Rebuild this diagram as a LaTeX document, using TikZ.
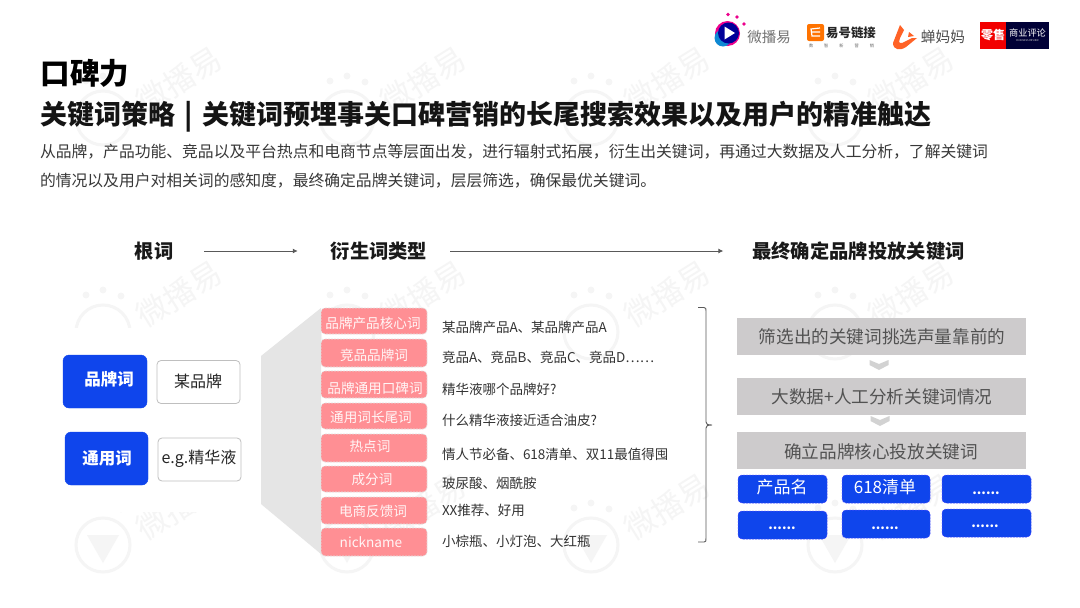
\documentclass[tikz,border=0pt]{standalone}
\usepackage{fontspec}
\setmainfont{Noto Sans CJK SC}
\usetikzlibrary{arrows.meta}
\definecolor{wm}{HTML}{F5F5F5}
\definecolor{bluebox}{HTML}{0F45EC}
\definecolor{pinkbox}{HTML}{FF8F94}
\definecolor{graybox}{HTML}{CDCBCC}
\definecolor{chev}{HTML}{D2D2D2}
\definecolor{trap}{HTML}{E5E5E5}
\newcommand{\fs}[1]{\fontsize{#1}{#1}\selectfont}
\tikzset{
  x=1pt,y=-1pt,
  txt/.style={inner sep=0,outer sep=0,text=#1},
  txt/.default=black,
  headlabel/.style={txt=black!90,font=\fs{19.3}\bfseries},
  rootbtn/.style={draw=bluebox,fill=bluebox,rounded corners=6,inner sep=0,outer sep=0},
  rootval/.style={draw=black!25,line width=.8pt,fill=white,rounded corners=4,inner sep=0,outer sep=0},
  pinkb/.style={draw=black!12,dashed,line width=.6pt,dash pattern=on 2pt off 1pt,fill=pinkbox,rounded corners=4,inner sep=0,outer sep=0},
  pinkt/.style={txt=white!92!pinkbox,font=\fs{13.6}},
  extxt/.style={txt=black!80,font=\fs{13.5},anchor=west},
  grayb/.style={fill=graybox,inner sep=0,outer sep=0},
  grayt/.style={txt=black!68,font=\fs{17.6}},
  blueb/.style={draw=blue!70!white,dashed,line width=.5pt,dash pattern=on 2pt off 1pt,fill=bluebox,rounded corners=4,inner sep=0,outer sep=0},
  bluet/.style={txt=white,font=\fs{17}},
  dott/.style={txt=white,font=\fs{13}\bfseries,anchor=base},
  flow/.style={draw=black!65,line width=.9pt,-{Latex[length=5pt,width=5pt]}},
}
\newcommand{\wmark}[3]{% x y triangle?
  \begin{scope}[shift={(#1,#2)}]
    \fill[wm] (-17,-37) circle (3.4) (0,-42) circle (3.4) (18,-36) circle (3.4);
    \draw[wm,line width=3pt] (0,0) circle (27);
    \ifnum#3=1 \fill[wm] (-16,-10) -- (16,-10) -- (0,18) -- cycle;\fi
    \node[txt=wm,font=\fs{31},rotate=32] at (76,-38) {微播易};
  \end{scope}}
\begin{document}
\begin{tikzpicture}
\useasboundingbox (0,0) rectangle (1080,608);
\fill[white] (0,0) rectangle (1080,608);
% watermarks
\foreach \xx in {103,347,591,835}{\wmark{\xx}{118}{0}\wmark{\xx}{332}{0}\wmark{\xx}{545}{1}}
\fill[white] (30,328) rectangle (262,512);
% logos
\fill[magenta] (728,14.5) circle (1.9) (737,17) circle (1.8) (744,24) circle (1.8);
\fill[magenta] (727.5,33.5) circle (12.5);
\fill[cyan!70!blue] (723,38) circle (8.5);
\fill[blue!60!black] (728.5,33) circle (10.5);
\fill[white] (724.5,26.5) -- (735,33) -- (724.5,39.5) -- cycle;
\node[txt=black!55,font=\fs{14.5}] (lwb) at (769,37) {微播易};
\fill[orange!90!red,rounded corners=2] (807,24) rectangle (824,41);
\draw[white,line width=1.2pt] (820,28) -- (811,29) -- (812,36) -- (820,36) (812,32) -- (820,32);
\node[txt=black!85,font=\fs{12.4}\bfseries] (lyh) at (851,33) {易号链接};
\node[txt=black!60,font=\fs{4.2}] (lyhs) at (841.5,46) {数\hspace{11pt}智\hspace{11pt}新\hspace{11pt}营\hspace{11pt}销};
\fill[orange!55!red!85!white] (900,25) -- (893,43) .. controls (893,50) and (900,51) .. (906,47) -- (917,38) -- (912,38) -- (902,43) .. controls (898,44) and (899,40) .. (900,38) -- (904,30) -- cycle;
\fill[orange!55!red!85!white] (909,32) -- (914,36) -- (908,37) -- cycle;
\node[txt=black!70,font=\fs{14.7}] (lcm) at (943,37) {蝉妈妈};
\fill[red!95!black] (980,22) rectangle (1006,49);
\fill[black!30!blue!30!black] (1006,22) rectangle (1049,49);
\node[txt=white,font=\fs{12}\bfseries] (lls) at (993,35) {零售};
\node[txt=white,font=\fs{9.2}] (lsy) at (1027.5,33) {商业评论};
\node[txt=white!80!black,font=\fs{2.6}] (lbr) at (1027.5,41) {BUSINESS REVIEW};
% titles
\node[txt=black,font=\fs{29.5}\bfseries,anchor=west] (title) at (41,73) {口碑力};
\node[txt=black!92,font=\fs{27}\bfseries,anchor=west] (sub) at (41,117) {关键词策略\hspace{9pt}|\hspace{9pt}关键词预埋事关口碑营销的长尾搜索效果以及用户的精准触达};
\node[txt=black!78,font=\fs{15.8},anchor=west] (d1) at (40,152) {从品牌，产品功能、竞品以及平台热点和电商节点等层面出发，进行辐射式拓展，衍生出关键词，再通过大数据及人工分析，了解关键词};
\node[txt=black!78,font=\fs{15.8},anchor=west] (d2) at (40,181) {的情况以及用户对相关词的感知度，最终确定品牌关键词，层层筛选，确保最优关键词。};
% headers
\node[headlabel] (h1) at (154,251) {根词};
\node[headlabel] (h2) at (379,251) {衍生词类型};
\node[headlabel] (h3) at (858.5,251) {最终确定品牌投放关键词};
\draw[flow,shorten <=31pt,shorten >=33pt] (h1) -- (h2);
\draw[flow,shorten <=23pt,shorten >=29pt] (h2) -- (h3);
% left
\node[rootbtn,minimum width=84,minimum height=53] (b1) at (105,381.5) {};
\node[txt=white,font=\fs{16.5}\bfseries] (b1t) at (109,379) {品牌词};
\node[rootbtn,minimum width=83,minimum height=53] (b2) at (106.5,458.5) {};
\node[txt=white,font=\fs{16.5}\bfseries] (b2t) at (107,458) {通用词};
\node[rootval,minimum width=83,minimum height=43] (v1) at (198.5,382) {};
\node[txt=black!85,font=\fs{16}] (v1t) at (198,381) {某品牌};
\node[rootval,minimum width=83,minimum height=43] (v2) at (199.5,459.5) {};
\node[txt=black!85,font=\fs{16}] (v2t) at (199,459) {e.g.精华液};
% trapezoid
\fill[trap] (261,356) -- (321,308) -- (321,554) -- (261,504) -- cycle;
% pink
\foreach \n/\yc/\hh in {p1/321/26,p2/353/28,p3/384.5/27,p4/416/26,p5/448/28,p6/479/26,p7/510.5/27,p8/542/28}{
  \node[pinkb,minimum width=106,minimum height=\hh] (\n) at (374,\yc) {};}
\node[pinkt] (t1) at (373,323) {品牌产品核心词};
\node[pinkt] (t2) at (374,355) {竞品品牌词};
\node[pinkt] (t3) at (375,388) {品牌通用口碑词};
\node[pinkt] (t4) at (371,417) {通用词长尾词};
\node[pinkt] (t5) at (370,446) {热点词};
\node[pinkt] (t6) at (372,479) {成分词};
\node[pinkt] (t7) at (373,511) {电商反馈词};
\node[pinkt] (t8) at (371,542) {nickname};
% examples
\node[extxt] (e1) at (442,327) {某品牌产品A、某品牌产品A};
\node[extxt] (e2) at (442,357) {竞品A、竞品B、竞品C、竞品D……};
\node[extxt] (e3) at (442,389) {精华液哪个品牌好?};
\node[extxt] (e4) at (442,420) {什么精华液接近适合油皮?};
\node[extxt] (e5) at (442,454) {情人节必备、618清单、双11最值得囤};
\node[extxt] (e6) at (442,483) {玻尿酸、烟酰胺};
\node[extxt] (e7) at (442,510) {XX推荐、好用};
\node[extxt] (e8) at (442,541) {小棕瓶、小灯泡、大红瓶};
% bracket
\draw[black!65,line width=.9pt] (698,307.5) -- (704,307.5) .. controls (706,307.5) and (706,309) .. (706,311) -- (706,422) .. controls (706,424) and (707,425) .. (712,425) .. controls (707,425) and (706,426) .. (706,428) -- (706,538) .. controls (706,541) and (706,542) .. (704,542) -- (698,542);
% right
\node[grayb,minimum width=289,minimum height=37] (g1) at (881.5,336.5) {};
\node[grayb,minimum width=289,minimum height=37] (g2) at (881.5,396) {};
\node[grayb,minimum width=289,minimum height=37] (g3) at (881.5,450) {};
\node[grayt] (g1t) at (882,337) {筛选出的关键词挑选声量靠前的};
\node[grayt] (g2t) at (882,397) {大数据+人工分析关键词情况};
\node[grayt] (g3t) at (881,452) {确立品牌核心投放关键词};
\fill[chev] (869.5,360) -- (879,364) -- (888.5,360) -- (888.5,365) -- (879,370) -- (869.5,365) -- cycle;
\fill[chev] (870.5,416) -- (880,420) -- (889.5,416) -- (889.5,421) -- (880,426) -- (870.5,421) -- cycle;
\node[blueb,minimum width=89,minimum height=28] (k1) at (782.5,489) {};
\node[blueb,minimum width=88,minimum height=28] (k2) at (886,489) {};
\node[blueb,minimum width=89,minimum height=28] (k3) at (986.5,489) {};
\node[blueb,minimum width=89,minimum height=28] (k4) at (782.5,525) {};
\node[blueb,minimum width=88,minimum height=28] (k5) at (886,524) {};
\node[blueb,minimum width=89,minimum height=28] (k6) at (986.5,523) {};
\node[bluet] (k1t) at (782,487) {产品名};
\node[bluet] (k2t) at (885,487) {618清单};
\node[dott] (k3t) at (986,494) {......};
\node[dott] (k4t) at (782,529) {......};
\node[dott] (k5t) at (885,529) {......};
\node[dott] (k6t) at (985,527) {......};
\end{tikzpicture}
\end{document}
